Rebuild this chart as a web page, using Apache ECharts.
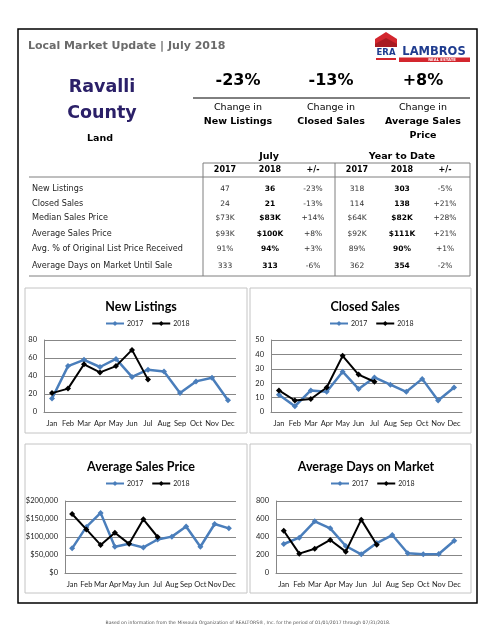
<!DOCTYPE html>
<html>
<head>
<meta charset="utf-8">
<script src="https://cdn.jsdelivr.net/npm/echarts@6/dist/echarts.min.js"></script>
<style>
html,body{margin:0;padding:0;background:#fff;}
#c{width:495px;height:640px;}
</style>
</head>
<body>
<div id="c"></div>
<script>
// ---------- data ----------
const months = ['Jan','Feb','Mar','Apr','May','Jun','Jul','Aug','Sep','Oct','Nov','Dec'];
const listings2017 = [15,51,58,50,59,39,47,45,21,34,38,13];
const listings2018 = [21,26,53,44,51,69,36];
const closed2017 = [12,4,15,14,28,16,24,19,14,23,8,17];
const closed2018 = [15,8,9,17,39,26,21];
const price2017 = [68500,128000,167000,73000,81000,71000,93000,101000,129000,73000,136000,124000];
const price2018 = [164000,121000,78000,112000,81000,149000,100000];
const dom2017 = [322,393,574,496,300,207,333,422,219,207,211,359];
const dom2018 = [470,215,270,367,237,593,313];

const headlineChanges = ['-23%','-13%','+8%'];
const headlineLabel1 = ['Change in','Change in','Change in'];
const headlineLabel2 = [['New Listings'],['Closed Sales'],['Average Sales','Price']];

const rowLabels = ['New Listings','Closed Sales','Median Sales Price','Average Sales Price','Avg. % of Original List Price Received','Average Days on Market Until Sale'];
const july2017 = ['47','24','$73K','$93K','91%','333'];
const july2018 = ['36','21','$83K','$100K','94%','313'];
const julyChange = ['-23%','-13%','+14%','+8%','+3%','-6%'];
const ytd2017 = ['318','114','$64K','$92K','89%','362'];
const ytd2018 = ['303','138','$82K','$111K','90%','354'];
const ytdChange = ['-5%','+21%','+28%','+21%','+1%','-2%'];

// ---------- layout ----------
const VF = '"DejaVu Sans", Verdana, sans-serif';
const CF = 'Lato, "Open Sans", sans-serif';
const g = [];
function txt(x,y,text,size,opts){
  opts = opts||{};
  g.push({type:'text', z:10, style:{x:x,y:y,text:text,fill:opts.color||'#000',
    font:(opts.bold?'bold ':'')+size+'px '+(opts.family||VF),
    textAlign:opts.align||'center', textVerticalAlign:'middle'}});
}
function line(x1,y1,x2,y2,color,w){
  g.push({type:'line', z:5, shape:{x1:x1,y1:y1,x2:x2,y2:y2}, style:{stroke:color,lineWidth:w||1}});
}
function rect(x,y,w,h,stroke,lw,fill){
  g.push({type:'rect', z:1, shape:{x:x,y:y,width:w,height:h}, style:{stroke:stroke||'none',lineWidth:lw||1,fill:fill||'none'}});
}

// outer border
rect(18,29,459,574,'#000',1.5);
txt(28,46,'Local Market Update | July 2018',11,{bold:true,align:'left',color:'#6b6b6b'});

// logo
g.push({type:'polygon', z:5, shape:{points:[[375,39],[386,32],[397,39],[397,47],[375,47]]}, style:{fill:'#d3262e'}});
g.push({type:'polygon', z:6, shape:{points:[[375,44],[386,38],[397,44],[397,47],[375,47]]}, style:{fill:'#a81b22'}});
txt(386,53,'ERA',8.5,{bold:true,color:'#1f3c8f'});
rect(376,58,20,2,'none',1,'#d3262e');
txt(434,52,'LAMBROS',11.5,{bold:true,color:'#1f3c8f'});
rect(399,57.5,71,4.5,'none',1,'#d3262e');
txt(442,60,'REAL ESTATE',3.8,{bold:true,color:'#fff'});

// county
txt(102,87,'Ravalli',17.5,{bold:true,color:'#2b2068'});
txt(102,113,'County',17.5,{bold:true,color:'#2b2068'});
txt(100,139,'Land',9.5,{bold:true});

// headline changes
const hx = [238,331,423];
for(let i=0;i<3;i++){
  txt(hx[i],81,headlineChanges[i],16,{bold:true});
  txt(hx[i],108,headlineLabel1[i],9.5);
  headlineLabel2[i].forEach((t,k)=>txt(hx[i],122+k*14,t,9.5,{bold:true}));
}
line(193,98,470,98,'#000',1);

txt(269,157,'July',9.5,{bold:true});
txt(402,157,'Year to Date',9.5,{bold:true});

// table
const tg = '#7f7f7f';
line(203,163,470,163,tg,1);
line(203,163,203,276,tg,1);
line(335,163,335,276,tg,1);
line(470,163,470,276,tg,1);
line(29,177,470,177,tg,1);
line(29,276,470,276,tg,1);
const colX = [225,270,313,357,402,445];
const hdr = ['2017','2018','+/-','2017','2018','+/-'];
hdr.forEach((h,i)=>txt(colX[i],170,h,8,{bold:true}));
const rowY = [189,204,218,234,249,266];
const cols = [july2017,july2018,julyChange,ytd2017,ytd2018,ytdChange];
rowLabels.forEach((r,i)=>{
  txt(32,rowY[i],r,8.1,{align:'left',color:'#222'});
  cols.forEach((c,j)=>txt(colX[j],rowY[i],c[i],7.5,{bold:(j===1||j===4),color:(j===1||j===4)?'#000':'#333'}));
});

// panels
rect(25,288,222,145,'#c4c4c4',1);
rect(250,288,221,145,'#c4c4c4',1);
rect(25,444,222,149,'#c4c4c4',1);
rect(250,444,221,149,'#c4c4c4',1);

// footnote
txt(248,623,'Based on information from the Missoula Organization of REALTORS®, Inc. for the period of 01/01/2017 through 07/31/2018.',4.6,{color:'#555'});

// ---------- charts ----------
const grids = [
  {left:44,top:340,width:192,height:72},
  {left:271,top:340,width:191,height:72},
  {left:65,top:501,width:171,height:72},
  {left:276,top:501,width:186,height:72}
];
const titles = [
  {text:'New Listings',x:136,y:295},
  {text:'Closed Sales',x:360,y:295},
  {text:'Average Sales Price',x:136,y:455},
  {text:'Average Days on Market',x:361,y:455}
];
const legendPos = [[136,319],[360,319],[136,479],[361,479]];
const yCfg = [
  {max:80,interval:20},
  {max:50,interval:10},
  {max:200000,interval:50000,fmt:v=>'$'+v.toLocaleString('en-US')},
  {max:800,interval:200}
];
const seriesData = [[listings2017,listings2018],[closed2017,closed2018],[price2017,price2018],[dom2017,dom2018]];
const axisGray = '#878787';

const option = {
  animation:false,
  graphic:{elements:g},
  title: titles.map(t=>({text:t.text,left:t.x,top:t.y,textAlign:'center',
    textStyle:{fontFamily:CF,fontWeight:'bold',fontSize:12.5,color:'#000'}})),
  legend: legendPos.map(p=>({data:['2017','2018'],left:p[0]-36,top:p[1]-4,
    itemWidth:18,itemHeight:6,itemGap:8,
    textStyle:{fontFamily:CF,fontSize:7,color:'#222',padding:[0,0,0,-2]},
    orient:'horizontal'})),
  grid: grids,
  xAxis: grids.map((_,i)=>({type:'category',gridIndex:i,data:months,boundaryGap:true,
    axisLine:{lineStyle:{color:axisGray,width:1}},axisTick:{show:false},
    axisLabel:{interval:0,fontFamily:CF,fontSize:7.5,color:'#222',margin:8}})),
  yAxis: yCfg.map((c,i)=>({type:'value',gridIndex:i,min:0,max:c.max,interval:c.interval,
    axisLine:{show:true,lineStyle:{color:axisGray,width:1}},axisTick:{show:false},
    splitLine:{lineStyle:{color:axisGray,width:1}},
    axisLabel:{fontFamily:CF,fontSize:7.5,color:'#222',margin:7,formatter:c.fmt}})),
  series: []
};
seriesData.forEach((pair,i)=>{
  option.series.push({name:'2017',type:'line',xAxisIndex:i,yAxisIndex:i,data:pair[0],
    symbol:'diamond',symbolSize:6,color:'#4a7ebb',lineStyle:{width:2.5,color:'#4a7ebb'},
    itemStyle:{color:'#4a7ebb'},z:3});
  option.series.push({name:'2018',type:'line',xAxisIndex:i,yAxisIndex:i,data:pair[1],
    symbol:'diamond',symbolSize:6,color:'#000',lineStyle:{width:2,color:'#000'},
    itemStyle:{color:'#000'},z:4});
});

const chart = echarts.init(document.getElementById('c'),null,{renderer:'canvas'});
chart.setOption(option);
</script>
</body>
</html>
